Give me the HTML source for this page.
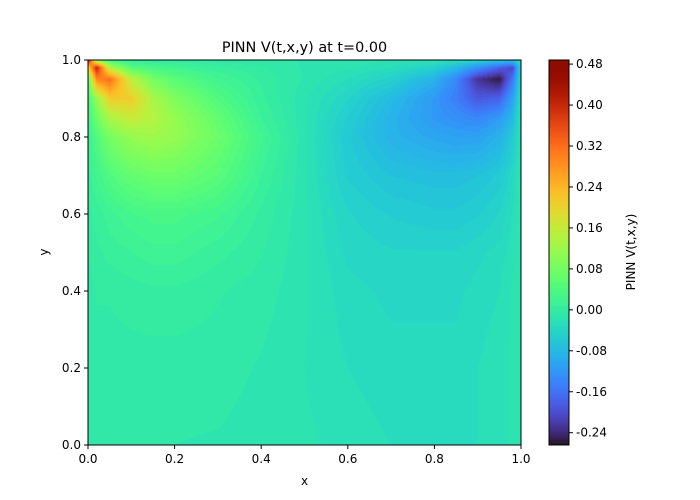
<!DOCTYPE html>
<html><head><meta charset="utf-8"><style>
body{margin:0;background:#fff;width:700px;height:500px;overflow:hidden;font-family:"Liberation Sans","DejaVu Sans",sans-serif}
#wrap{position:relative;width:700px;height:500px}
canvas{position:absolute}
svg{position:absolute;left:0;top:0}
text{font-family:"DejaVu Sans","Liberation Sans",sans-serif;font-size:12px;fill:#000}
</style></head><body>
<div id="wrap">
<canvas id="heat" width="433" height="385" style="left:88px;top:60px"></canvas>
<canvas id="cbar" width="20" height="385" style="left:549px;top:60px"></canvas>
<svg id="ov" width="700" height="500"></svg>
</div>
<script>
const xGrid=[0,0.02,0.05,0.1,0.15,0.2,0.3,0.4,0.5,0.6,0.7,0.8,0.85,0.9,0.95,0.98,1];
const yGrid=[0,0.2,0.4,0.5,0.6,0.7,0.8,0.85,0.9,0.95,0.98,1];
const values=[
[-0.012,-0.012,-0.012,-0.012,-0.012,-0.012,-0.013,-0.016,-0.018,-0.023,-0.028,-0.028,-0.028,-0.028,-0.023,-0.018,-0.013],
[-0.008,-0.008,-0.008,-0.008,-0.008,-0.008,-0.008,-0.013,-0.02,-0.028,-0.033,-0.033,-0.033,-0.028,-0.023,-0.018,-0.013],
[-0.008,-0.003,-0.003,0,0.002,0.002,-0.003,-0.008,-0.018,-0.033,-0.038,-0.038,-0.038,-0.033,-0.028,-0.018,-0.013],
[-0.003,0.002,0.007,0.012,0.017,0.017,0.007,-0.003,-0.018,-0.038,-0.043,-0.043,-0.043,-0.038,-0.033,-0.023,-0.013],
[0.002,0.007,0.017,0.027,0.032,0.032,0.022,0.002,-0.018,-0.043,-0.053,-0.058,-0.058,-0.053,-0.043,-0.028,-0.013],
[0.007,0.022,0.042,0.062,0.072,0.072,0.052,0.012,-0.018,-0.053,-0.068,-0.073,-0.073,-0.068,-0.058,-0.038,-0.013],
[0.012,0.042,0.082,0.112,0.122,0.112,0.072,0.022,-0.018,-0.058,-0.088,-0.103,-0.108,-0.108,-0.088,-0.058,-0.018],
[0.022,0.072,0.132,0.162,0.142,0.112,0.062,0.012,-0.018,-0.053,-0.088,-0.118,-0.128,-0.138,-0.118,-0.078,-0.018],
[0.032,0.112,0.212,0.212,0.132,0.092,0.042,0.007,-0.018,-0.043,-0.078,-0.118,-0.148,-0.188,-0.178,-0.108,-0.023],
[0.052,0.292,0.322,0.152,0.082,0.052,0.022,0.002,-0.013,-0.028,-0.048,-0.088,-0.138,-0.228,-0.258,-0.158,-0.028],
[0.192,0.412,0.142,0.052,0.032,0.022,0.007,-0.003,-0.013,-0.018,-0.028,-0.048,-0.078,-0.128,-0.178,-0.208,-0.028],
[0.442,0.092,0.022,0.002,-0.003,-0.003,-0.008,-0.008,-0.013,-0.013,-0.018,-0.018,-0.028,-0.038,-0.058,-0.058,-0.018]];
const axisTicks=[0,0.2,0.4,0.6,0.8,1.0];
const cbarTicks=[-0.24,-0.16,-0.08,0.00,0.08,0.16,0.24,0.32,0.40,0.48];
const vmin=-0.264,vmax=0.488;

function turbo(t){t=Math.max(0,Math.min(1,t));
const r=34.61+t*(1172.33-t*(10793.56-t*(33300.12-t*(38394.49-t*14825.05))));
const g=23.31+t*(557.33+t*(1225.33-t*(3574.96-t*(1073.77+t*707.56))));
const b=27.2+t*(3211.1-t*(15327.97-t*(27814-t*(22569.18-t*6838.66))));
return [Math.max(0,Math.min(255,r)),Math.max(0,Math.min(255,g)),Math.max(0,Math.min(255,b))];}
function seg(arr,v){let i=0;while(i<arr.length-2&&v>arr[i+1])i++;return [i,Math.max(0,Math.min(1,(v-arr[i])/(arr[i+1]-arr[i])))];}
function field(x,y){const [i,fx]=seg(xGrid,x),[j,fy]=seg(yGrid,y);
const a=values[j][i],b=values[j][i+1],c=values[j+1][i],d=values[j+1][i+1];
return (a*(1-fx)+b*fx)*(1-fy)+(c*(1-fx)+d*fx)*fy;}
const W=433,H=385;
const ctx=document.getElementById('heat').getContext('2d');
const img=ctx.createImageData(W,H);
for(let py=0;py<H;py++)for(let px=0;px<W;px++){
let v=field((px+0.5)/W,1-(py+0.5)/H);
v=Math.round(v/0.008)*0.008;
const c=turbo((v-vmin)/(vmax-vmin));const k=(py*W+px)*4;
img.data[k]=c[0];img.data[k+1]=c[1];img.data[k+2]=c[2];img.data[k+3]=255;}
ctx.putImageData(img,0,0);
const cb=document.getElementById('cbar').getContext('2d');
for(let py=0;py<H;py++){const c=turbo(1-py/H);cb.fillStyle=`rgb(${c[0]|0},${c[1]|0},${c[2]|0})`;cb.fillRect(0,py,20,1);}

const svg=document.getElementById('ov');const NS='http://www.w3.org/2000/svg';
function el(tag,attrs,txt){const e=document.createElementNS(NS,tag);for(const k in attrs)e.setAttribute(k,attrs[k]);if(txt!==undefined)e.textContent=txt;svg.appendChild(e);return e;}
const X=v=>88+v*433,Y=v=>445-v*385,CY=v=>445-(v-vmin)/(vmax-vmin)*385;
let e=el('rect',{x:88,y:60,width:433,height:385,fill:'none',stroke:'#000','stroke-width':1});


e=el('rect',{x:549,y:60,width:20,height:385,fill:'none',stroke:'#000','stroke-width':1});


axisTicks.forEach(t=>{
 e=el('line',{x1:X(t),x2:X(t),y1:445,y2:449,stroke:'#000'});
 
 
 e=el('text',{x:X(t),y:463,'text-anchor':'middle'},t.toFixed(1));
 
 
 e=el('line',{x1:84,x2:88,y1:Y(t),y2:Y(t),stroke:'#000'});
 
 
 e=el('text',{x:81,y:Y(t)+4,'text-anchor':'end'},t.toFixed(1));
 
 
});
cbarTicks.forEach(t=>{
 e=el('line',{x1:569,x2:573,y1:CY(t),y2:CY(t),stroke:'#000'});
 
 
 e=el('text',{x:576,y:CY(t)+4},t.toFixed(2));
 
 
});
e=el('text',{x:304.5,y:52,'text-anchor':'middle',style:'font-size:14.4px'},'PINN V(t,x,y) at t=0.00');


e=el('text',{x:304.5,y:485,'text-anchor':'middle'},'x');


e=el('text',{x:48,y:252,'text-anchor':'middle',transform:'rotate(-90 48 252)'},'y');


e=el('text',{x:635,y:252,'text-anchor':'middle',transform:'rotate(-90 635 252)'},'PINN V(t,x,y)');


</script>
</body></html>
